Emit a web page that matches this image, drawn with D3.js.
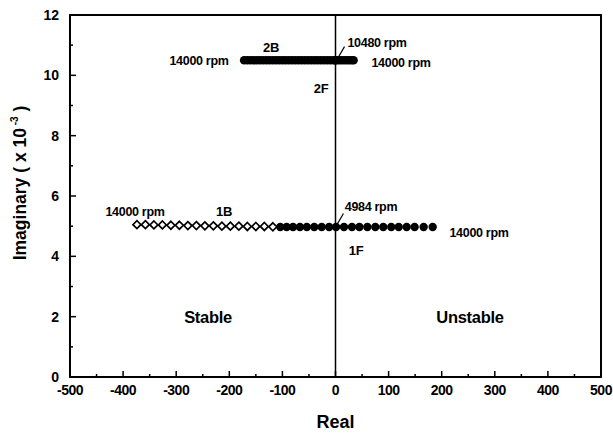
<!DOCTYPE html>
<html><head><meta charset="utf-8">
<script src="https://cdn.jsdelivr.net/npm/d3@7"></script>
<style>
body{margin:0;background:#fff;}
text{font-family:"Liberation Sans",Arial,sans-serif;font-weight:bold;fill:#000;}
</style></head>
<body><svg id="c" width="613" height="435"></svg>
<script>
// Data
const xTicks = [-500,-400,-300,-200,-100,0,100,200,300,400,500];
const yTicks = [0,2,4,6,8,10,12];
// Mode 1B (backward, open diamonds)
const real1B = [-374,-358,-342,-326,-310,-294,-278,-262,-246,-230,-214,-198,-182,-166,-150,-134,-118];
const imag1B = [5.05,5.05,5.04,5.04,5.03,5.03,5.02,5.02,5.01,5.01,5.0,5.0,5.0,4.99,4.99,4.99,4.98];
// Mode 1F (forward, filled circles)
const real1F = [-104,-92,-80,-67,-54,-40,-26,-12,1,16,31,45,60,75,90,105,119,134,149,166,183];
const imag1F = [4.97,4.97,4.97,4.97,4.97,4.97,4.97,4.97,4.97,4.97,4.97,4.97,4.97,4.97,4.97,4.97,4.97,4.97,4.97,4.97,4.97];
// Mode 2B (dense filled circles)
const real2B = [-172,-166,-160,-154,-148,-142,-136,-130,-124,-118,-112,-106,-100,-94,-88,-82,-76,-70,-64,-58,-52,-46,-40,-34,-28,-22,-16,-10,-4,0];
const imag2B = [10.5,10.5,10.5,10.5,10.5,10.5,10.5,10.5,10.5,10.5,10.5,10.5,10.5,10.5,10.5,10.5,10.5,10.5,10.5,10.5,10.5,10.5,10.5,10.5,10.5,10.5,10.5,10.5,10.5,10.5];
// Mode 2F
const real2F = [0,5,10,15,20,25,30,34];
const imag2F = [10.5,10.5,10.5,10.5,10.5,10.5,10.5,10.5];

const svg = d3.select("#c");
const x = d3.scaleLinear().domain([-500,500]).range([70,601]);
const y = d3.scaleLinear().domain([0,12]).range([377,15]);

// frame
svg.append("rect").attr("x",70).attr("y",15).attr("width",531).attr("height",362)
  .attr("fill","none").attr("stroke","#000").attr("stroke-width",2);

// bottom axis ticks (inward)
const xMinor = d3.range(-450,500,100);
svg.selectAll(".xt").data(xTicks).enter().append("line")
  .attr("x1",d=>x(d)).attr("x2",d=>x(d)).attr("y1",377).attr("y2",371)
  .attr("stroke","#000").attr("stroke-width",1.5);
svg.selectAll(".xm").data(xMinor).enter().append("line")
  .attr("x1",d=>x(d)).attr("x2",d=>x(d)).attr("y1",377).attr("y2",374)
  .attr("stroke","#000").attr("stroke-width",1.5);
svg.selectAll(".xl").data(xTicks).enter().append("text")
  .attr("x",d=>x(d)).attr("y",395).attr("text-anchor","middle")
  .attr("font-size",14).attr("letter-spacing",-0.5).text(d=>d);

// left axis ticks
const yMinor = d3.range(1,12,2);
svg.selectAll(".yt").data(yTicks).enter().append("line")
  .attr("x1",70).attr("x2",76).attr("y1",d=>y(d)).attr("y2",d=>y(d))
  .attr("stroke","#000").attr("stroke-width",1.5);
svg.selectAll(".ym").data(yMinor).enter().append("line")
  .attr("x1",70).attr("x2",73).attr("y1",d=>y(d)).attr("y2",d=>y(d))
  .attr("stroke","#000").attr("stroke-width",1.5);
svg.selectAll(".yl").data(yTicks).enter().append("text")
  .attr("x",59).attr("y",d=>y(d)+5).attr("text-anchor","end")
  .attr("font-size",14).text(d=>d);

// zero line
svg.append("line").attr("x1",x(0)).attr("x2",x(0)).attr("y1",15).attr("y2",377)
  .attr("stroke","#000").attr("stroke-width",1.5);

// axis titles
svg.append("text").attr("x",x(0)).attr("y",428).attr("text-anchor","middle")
  .attr("font-size",18).text("Real");
const yl = svg.append("text").attr("transform","translate(26,183) rotate(-90)")
  .attr("text-anchor","middle").attr("font-size",17.5);
yl.append("tspan").text("Imaginary ( x 10");
yl.append("tspan").attr("font-size",10).attr("dy",-8).text(" -3");
yl.append("tspan").attr("dy",8).text("  )");

// data marks
const pts = (rs,is)=>rs.map((r,i)=>[r,is[i]]);
svg.selectAll(".p2").data(pts(real2B,imag2B).concat(pts(real2F,imag2F))).enter().append("circle")
  .attr("cx",d=>x(d[0])).attr("cy",d=>y(d[1])).attr("r",4.3).attr("fill","#000");
svg.selectAll(".p1f").data(pts(real1F,imag1F)).enter().append("circle")
  .attr("cx",d=>x(d[0])).attr("cy",d=>y(d[1])).attr("r",4.2).attr("fill","#000");
const dia = d3.symbol().type(d3.symbolDiamond2).size(40);
svg.selectAll(".p1b").data(pts(real1B,imag1B)).enter().append("path")
  .attr("transform",d=>`translate(${x(d[0])},${y(d[1])})`)
  .attr("d",dia).attr("fill","#fff").attr("stroke","#000").attr("stroke-width",1.7);

// leader lines
svg.append("line").attr("x1",x(2)).attr("y1",y(10.5)).attr("x2",x(17)).attr("y2",y(10.95))
  .attr("stroke","#000").attr("stroke-width",1.2);
svg.append("line").attr("x1",x(0)).attr("y1",y(4.97)).attr("x2",x(15)).attr("y2",y(5.42))
  .attr("stroke","#000").attr("stroke-width",1.2);

// annotations
const ann = [
  ["14000 rpm",199,y(10.5)+5,12.5],
  ["2B",271,52,13],
  ["10480 rpm",377,47,12.5],
  ["14000 rpm",401,67,12.5],
  ["2F",321,93,13],
  ["14000 rpm",135,216,12.5],
  ["1B",224,216,13],
  ["4984 rpm",371,211,12.5],
  ["14000 rpm",479,237,12.5],
  ["1F",356,255,13],
  ["Stable",208,323,16.5],
  ["Unstable",470,323,16.5]
];
svg.selectAll(".an").data(ann).enter().append("text")
  .attr("x",d=>d[1]).attr("y",d=>d[2]).attr("text-anchor","middle")
  .attr("font-size",d=>d[3]).attr("letter-spacing",-0.3).text(d=>d[0]);
</script></body></html>
